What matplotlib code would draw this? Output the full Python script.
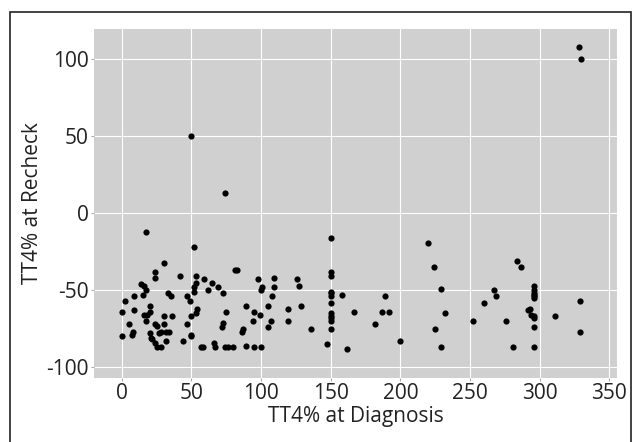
import numpy as np
import matplotlib.pyplot as plt
from matplotlib.patches import Rectangle

# TT4% at diagnosis (x) vs TT4% at recheck (y)
diag = [0, 0, 2, 5, 7, 8, 9, 9, 14, 16, 15, 17, 16, 17, 18, 20, 20, 20, 21, 22,
        24, 25, 24, 25, 28, 27, 28, 30, 30, 32, 34, 32, 33, 35, 36, 24, 24, 17, 30,
        42, 44, 47, 47, 49, 50, 50, 50, 52, 52, 53, 53, 54, 53, 52, 58, 57, 59, 62,
        65, 66, 69, 67, 73, 73, 74, 75, 72, 76, 81, 83, 80, 86, 87, 89, 89, 95, 94,
        98, 100, 101, 99, 95, 100, 105, 105, 107, 108, 109, 109, 119, 119, 126, 127,
        129, 136, 147, 150, 150, 150, 150, 150, 150, 150, 150, 150, 150, 150, 150,
        158, 162, 167, 182, 187, 189, 192, 200, 220, 224, 229, 232, 225, 229, 252,
        260, 267, 269, 276, 281, 284, 287, 292, 293, 294, 296, 296, 296, 296, 296,
        296, 296, 296, 296, 296, 311, 329, 329, 328, 330, 50, 74]
recheck = [-64, -80, -57, -72, -79, -77, -63, -54, -46, -47, -53, -50, -66, -70,
           -66, -64, -60, -78, -81, -82, -72, -73, -84, -87, -87, -78, -77, -67, -72,
           -77, -77, -83, -52, -54, -67, -38, -42, -12, -32,
           -41, -83, -72, -54, -57, -79, -80, -67, -48, -51, -45, -41, -62, -65, -22,
           -87, -87, -43, -50, -45, -84, -48, -87, -52, -71, -87, -64, -74, -87, -37,
           -37, -87, -77, -75, -60, -86, -64, -70, -43, -50, -48, -66, -87, -87, -60,
           -74, -70, -54, -48, -42, -62, -70, -43, -47, -60, -75, -85, -16, -38, -41,
           -51, -52, -54, -58, -65, -67, -68, -70, -75, -53, -88, -64, -72, -64, -54,
           -64, -83, -19, -35, -49, -65, -75, -87, -70, -58, -50, -54, -70, -87, -31,
           -35, -63, -62, -66, -47, -50, -52, -53, -54, -55, -67, -68, -74, -87, -67,
           -57, -77, 108, 100, 50, 13]

plt.rcParams['font.family'] = ['Open Sans', 'DejaVu Sans']
plt.rcParams['axes.unicode_minus'] = False

fig = plt.figure(figsize=(6.33, 4.42), dpi=100)
ax = fig.add_axes([0.1485, 0.145, 0.826, 0.789])
ax.set_facecolor('#d0d0d0')
ax.grid(True, color='white', linewidth=0.8)
ax.set_axisbelow(True)
ax.scatter(diag, recheck, s=20, color='black', zorder=3, linewidths=0)

ax.set_xlim(-20, 355.5)
ax.set_ylim(-107, 119.7)
ax.set_xticks(np.arange(0, 351, 50))
ax.set_yticks(np.arange(-100, 101, 50))
for s in ax.spines.values():
    s.set_visible(False)
ax.tick_params(colors='#aaaaaa', labelcolor='#222222', labelsize=15, length=2, pad=2)
ax.set_xlabel('TT4% at Diagnosis', fontsize=15, color='#222222', labelpad=1)
ax.set_ylabel('TT4% at Recheck', fontsize=15, color='#222222', labelpad=2)

# thin frame around the figure (cut at the bottom)
fig.patches.append(Rectangle((10/633, -0.05), 621/633, 1.05 - 12/442,
                             transform=fig.transFigure, fill=False,
                             edgecolor='#222222', linewidth=1.2))

fig.savefig('out.png', dpi=100)
